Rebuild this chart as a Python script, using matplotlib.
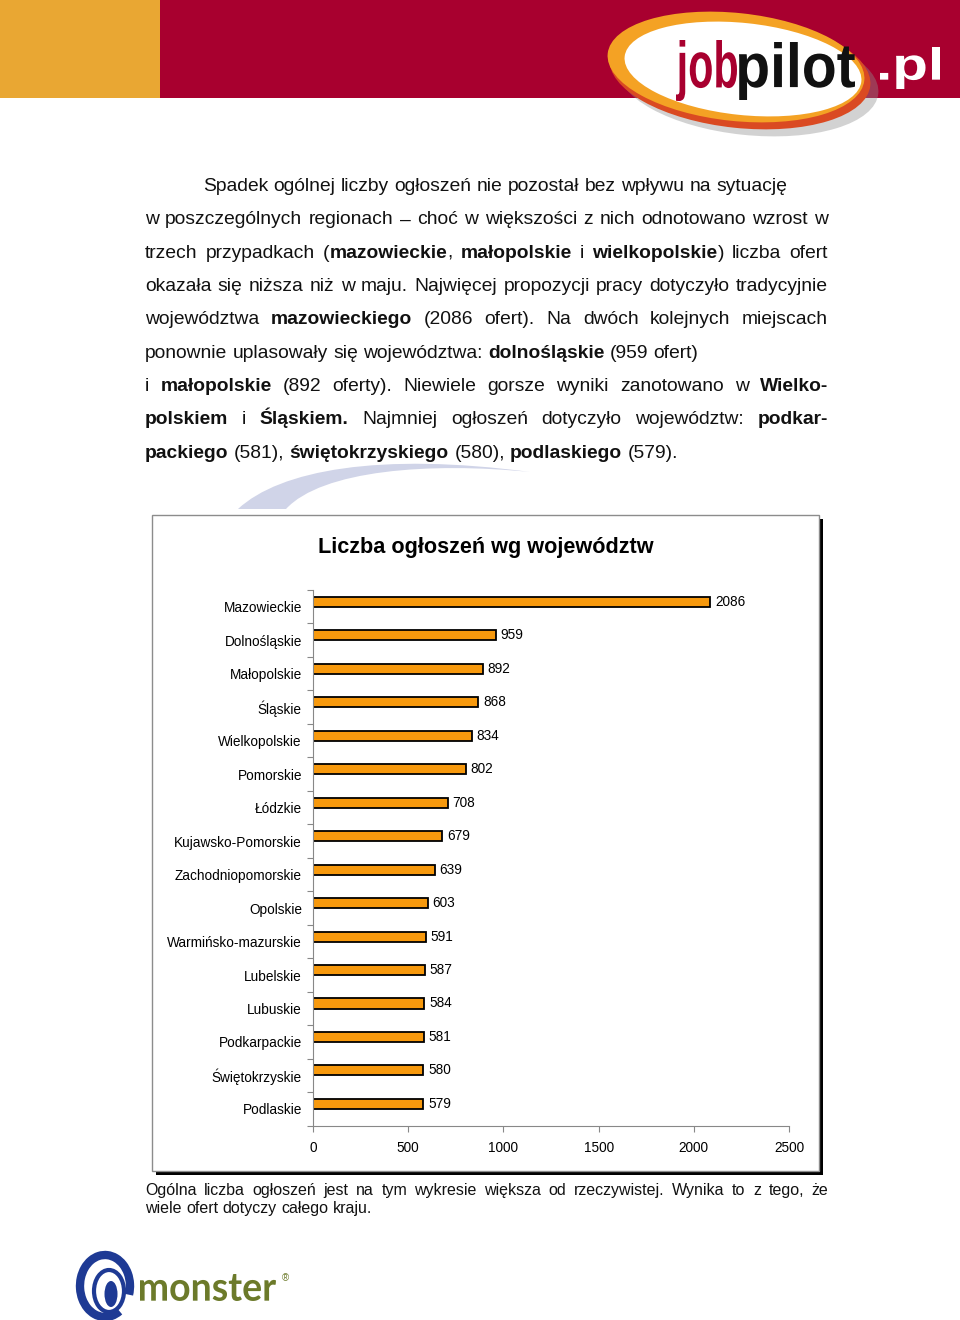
import matplotlib
matplotlib.use('Agg')
import matplotlib.pyplot as plt
import numpy as np
from matplotlib.patches import Rectangle, Ellipse, PathPatch, Arc
from matplotlib.path import Path
from matplotlib.textpath import TextPath
from matplotlib.font_manager import FontProperties
from matplotlib.transforms import Affine2D

FONT = 'Liberation Sans'

# -- chart data
regions = ['Mazowieckie', 'Dolnośląskie', 'Małopolskie', 'Śląskie', 'Wielkopolskie',
           'Pomorskie', 'Łódzkie', 'Kujawsko-Pomorskie', 'Zachodniopomorskie', 'Opolskie',
           'Warmińsko-mazurskie', 'Lubelskie', 'Lubuskie', 'Podkarpackie',
           'Świętokrzyskie', 'Podlaskie']
offers = [2086, 959, 892, 868, 834, 802, 708, 679, 639, 603, 591, 587, 584, 581, 580, 579]
x_ticks = [0, 500, 1000, 1500, 2000, 2500]
chart_title = 'Liczba ogłoszeń wg województw'

# -- page text (** toggles bold), justify flag
paragraph = [
    ('Spadek ogólnej liczby ogłoszeń nie pozostał bez wpływu na sytuację', False),
    ('w poszczególnych regionach – choć w większości z nich odnotowano wzrost w', True),
    ('trzech przypadkach (**mazowieckie**, **małopolskie** i **wielkopolskie**) liczba ofert', True),
    ('okazała się niższa niż w maju. Najwięcej propozycji pracy dotyczyło tradycyjnie', True),
    ('województwa **mazowieckiego** (2086 ofert). Na dwóch kolejnych miejscach', True),
    ('ponownie uplasowały się województwa: **dolnośląskie** (959 ofert)', False),
    ('i **małopolskie** (892 oferty). Niewiele gorsze wyniki zanotowano w **Wielko-**', True),
    ('**polskiem** i **Śląskiem.** Najmniej ogłoszeń dotyczyło województw: **podkar-**', True),
    ('**packiego** (581), **świętokrzyskiego** (580), **podlaskiego** (579).', False),
]
footnote = [
    ('Ogólna liczba ogłoszeń jest na tym wykresie większa od rzeczywistej. Wynika to z tego, że', True),
    ('wiele ofert dotyczy całego kraju.', False),
]

fig = plt.figure(figsize=(9.6, 13.2), dpi=100)
page = fig.add_axes([0, 0, 1, 1])
page.set_xlim(0, 960)
page.set_ylim(1320, 0)
page.axis('off')
renderer = fig.canvas.get_renderer()


def text_width(s, bold, size):
    t = page.text(0, 0, s, fontsize=size, family=FONT,
                  fontweight='bold' if bold else 'normal')
    w = t.get_window_extent(renderer).width
    t.remove()
    return w


def parse(line):
    words, bold = [], False
    for w in line.split(' '):
        pieces = []
        for k, part in enumerate(w.split('**')):
            if k > 0:
                bold = not bold
            if part:
                pieces.append((part, bold))
        words.append(pieces)
    return words


def draw_line(line, x0, x1, y, size, justify):
    words = parse(line)
    widths = [sum(text_width(p, b, size) for p, b in w) for w in words]
    space = text_width('x x', False, size) - text_width('xx', False, size)
    gap = (x1 - x0 - sum(widths)) / (len(words) - 1) if justify else space
    x = x0
    for w, wd in zip(words, widths):
        for p, b in w:
            page.text(x, y, p, fontsize=size, family=FONT, va='baseline', ha='left',
                      fontweight='bold' if b else 'normal', color='#111111', zorder=3)
            x += text_width(p, b, size)
        x += gap


def path_text(s, x0, y0, x1, y1, color, weight='bold', family=FONT, z=5):
    tp = TextPath((0, 0), s, size=1, prop=FontProperties(family=family, weight=weight))
    bb = tp.get_extents()
    tr = (Affine2D().translate(-bb.x0, -bb.y0)
          .scale((x1 - x0) / bb.width, -(y1 - y0) / bb.height)
          .translate(x0, y1))
    page.add_patch(PathPatch(tr.transform_path(tp), fc=color, ec='none', zorder=z))


# header bands
page.add_patch(Rectangle((0, 0), 160, 98, fc='#E9A733', ec='none', zorder=1))
page.add_patch(Rectangle((160, 0), 800, 98, fc='#A8002F', ec='none', zorder=1))

# jobpilot logo
page.add_patch(Ellipse((748, 80), 262, 110, angle=6, fc='#8f8f8f', alpha=0.4, ec='none', zorder=2))
page.add_patch(Ellipse((740, 72), 262, 112, angle=6, fc='#DA4A22', ec='none', zorder=2.1))
page.add_patch(Ellipse((736, 67), 258, 108, angle=6, fc='#F4A224', ec='none', zorder=2.2))
page.add_patch(Ellipse((743, 69), 238, 92, angle=6, fc='white', ec='none', zorder=2.3))
path_text('job', 676, 40, 737, 101, '#A8002F')
path_text('pilot', 739, 42, 855, 100, '#111111')
path_text('.pl', 880, 47, 940, 89, 'white')

# faint swoosh behind the paragraph
verts = [(238, 509), (280, 470), (380, 452), (530, 472),
         (430, 462), (322, 470), (286, 509), (238, 509)]
codes = [Path.MOVETO, Path.CURVE4, Path.CURVE4, Path.CURVE4,
         Path.CURVE4, Path.CURVE4, Path.CURVE4, Path.CLOSEPOLY]
page.add_patch(PathPatch(Path(verts, codes), fc='#D0D4E8', ec='none', zorder=0.5))

# paragraph
for k, (line, just) in enumerate(paragraph):
    x0 = 203 if k == 0 else 145
    draw_line(line, x0, 828, 191 + 33.35 * k, 13.9, just)

# chart frame with shadow
page.add_patch(Rectangle((156, 519), 667, 656, fc='black', ec='none', zorder=1))
page.add_patch(Rectangle((152, 515), 667, 656, fc='white', ec='#8c8c8c', lw=1, zorder=1.1))
page.text(486, 553, chart_title, fontsize=15.6, family=FONT, fontweight='bold',
          ha='center', va='baseline', zorder=3)

# footnote
for k, (line, just) in enumerate(footnote):
    draw_line(line, 145, 828, 1195 + 18 * k, 11.5, just)

# monster logo
blue = '#1E3A94'
page.add_patch(Arc((105, 1286), 50, 62, theta1=60, theta2=380, lw=6, color=blue, zorder=3))
page.add_patch(Ellipse((109, 1291), 30, 42, fc='none', ec=blue, lw=3, zorder=3))
page.add_patch(Ellipse((111, 1294), 13, 26, fc=blue, ec='none', zorder=3))
path_text('monster', 140, 1274, 276, 1301, '#6C7A2A', weight='bold', family='Lato')
page.text(282, 1281, '®', fontsize=7, color='#6C7A2A', family=FONT, zorder=3)

# bar chart
ax = fig.add_axes([313 / 960, 1 - 1125.7 / 1320, 476 / 960, (1125.7 - 590) / 1320])
ax.patch.set_alpha(0)
ypos = np.arange(len(regions))
ax.barh(ypos - 0.15, offers, height=0.3, color='#F7990D', edgecolor='black', linewidth=1.3)
ax.set_xlim(0, 2500)
ax.set_ylim(len(regions) - 0.5, -0.5)
ax.set_yticks(np.arange(-0.5, len(regions)))
ax.set_yticklabels([])
ax.set_yticks(ypos, minor=True)
ax.set_yticklabels(regions, minor=True, family=FONT, fontsize=9.8)
ax.tick_params(axis='y', which='major', length=4, color='#888888', direction='out')
ax.tick_params(axis='y', which='minor', length=0, pad=8)
ax.set_xticks(x_ticks)
ax.set_xticklabels([str(v) for v in x_ticks], family=FONT, fontsize=9.8)
ax.tick_params(axis='x', length=4, color='#888888', pad=7)
for s in ['top', 'right']:
    ax.spines[s].set_visible(False)
for s in ['left', 'bottom']:
    ax.spines[s].set_color('#888888')
    ax.spines[s].set_linewidth(0.8)
for yi, v in zip(ypos, offers):
    ax.annotate(str(v), (v, yi - 0.15), xytext=(3.5, 0), textcoords='offset points',
                va='center', ha='left', fontsize=9.8, family=FONT)

fig.savefig('out.png', dpi=100)
